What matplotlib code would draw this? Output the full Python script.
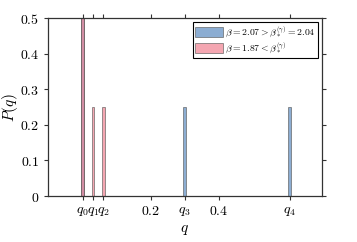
import matplotlib.pyplot as plt
import numpy as np

plt.rcParams['mathtext.fontset'] = 'cm'
plt.rcParams['font.family'] = 'serif'
plt.rcParams['font.serif'] = ['DejaVu Serif']

# support points of the two distributions
q_vals = [0.0, 0.03, 0.06, 0.30, 0.61]
q_names = ['$q_0$', '$q_1$', '$q_2$', '$q_3$', '$q_4$']

# blue: beta above threshold, pink: beta below threshold
q_blue = [0.0, 0.30, 0.61]
p_blue = [0.5, 0.25, 0.25]
q_pink = [0.0, 0.03, 0.06]
p_pink = [0.5, 0.25, 0.25]

label_blue = r'$\beta=2.07>\beta_*^{(\gamma)}=2.04$'
label_pink = r'$\beta=1.87<\beta_*^{(\gamma)}$'

fig = plt.figure(figsize=(3.57, 2.42), dpi=100)
ax = fig.add_axes([0.134, 0.19, 0.768, 0.735])

w = 0.008
ax.bar(q_blue, p_blue, width=w, color='#5b8bc0', alpha=0.7, edgecolor='#555555',
       linewidth=0.6, label=label_blue)
ax.bar(q_pink, p_pink, width=w, color='#f08090', alpha=0.7, edgecolor='#555555',
       linewidth=0.6, label=label_pink)

ax.set_xlim(-0.103, 0.705)
ax.set_ylim(0, 0.5)

xt = [q_vals[0], q_vals[1], q_vals[2], 0.2, q_vals[3], 0.4, q_vals[4]]
xl = [q_names[0], q_names[1], q_names[2], '$0.2$', q_names[3], '$0.4$', q_names[4]]
ax.set_xticks(xt)
ax.set_xticklabels(xl)
ax.set_yticks([0, 0.1, 0.2, 0.3, 0.4, 0.5])
ax.set_yticklabels(['$0$', '$0.1$', '$0.2$', '$0.3$', '$0.4$', '$0.5$'])
ax.tick_params(direction='out', top=True, right=True, labeltop=False, labelright=False,
               length=3, width=0.8, color='#333333', labelsize=10, pad=3)

for s in ax.spines.values():
    s.set_color('#333333')
    s.set_linewidth(0.9)

ax.set_xlabel('$q$', fontsize=11, labelpad=3)
ax.set_ylabel('$P(q)$', fontsize=11, labelpad=0)

leg = ax.legend(loc='upper right', fontsize=7, fancybox=False, edgecolor='black',
                framealpha=1, borderpad=0.25, handlelength=2.9, handleheight=1.2,
                handletextpad=0.2, borderaxespad=0.4, labelspacing=0.15)
leg.get_frame().set_linewidth(0.8)

fig.savefig('out.png', dpi=100)
